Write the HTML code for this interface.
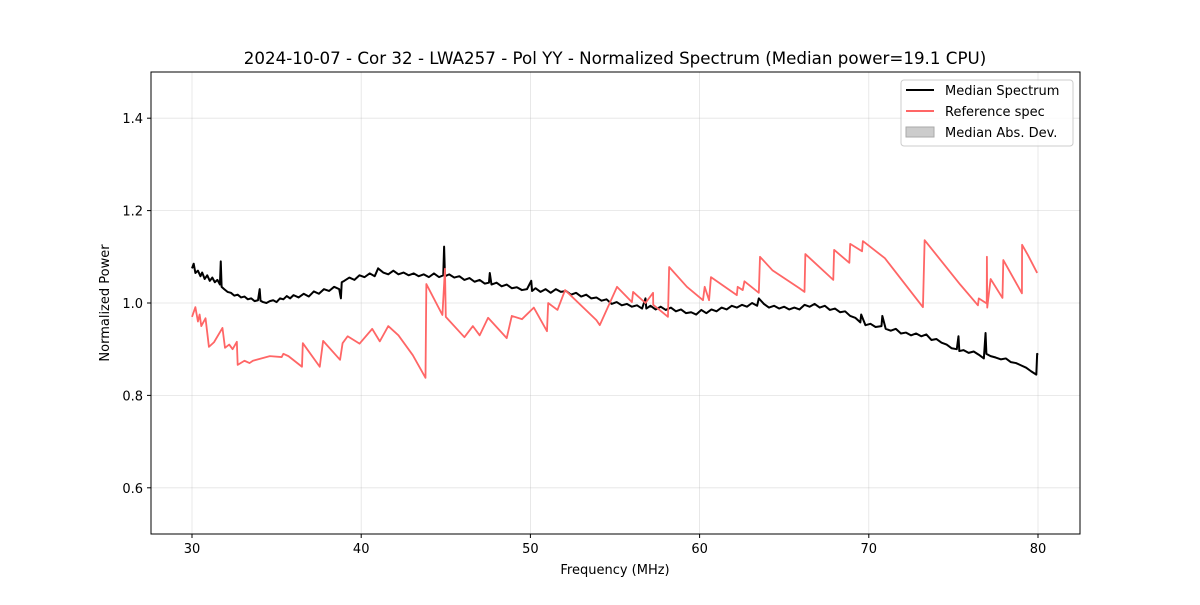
<!DOCTYPE html>
<html><head><meta charset="utf-8"><style>
body{margin:0;background:#fff;font-family:"Liberation Sans","DejaVu Sans",sans-serif}
svg text{font-family:"DejaVu Sans","Liberation Sans",sans-serif}
</style></head><body>
<svg id="chart" width="1200" height="600" xmlns="http://www.w3.org/2000/svg">
<rect width="1200" height="600" fill="#fff"/>
<text x="615" y="64" text-anchor="middle" font-size="16.7">2024-10-07 - Cor 32 - LWA257 - Pol YY - Normalized Spectrum (Median power=19.1 CPU)</text>
<g id="grid"></g><g id="series"></g><g id="axes"></g>
<rect x="151" y="72" width="929" height="462" fill="none" stroke="#000" stroke-width="1"/>
<text x="615" y="574" text-anchor="middle" font-size="13">Frequency (MHz)</text>
<text x="109" y="303" text-anchor="middle" font-size="13" transform="rotate(-90 109 303)">Normalized Power</text>
<g>
<rect x="901" y="80" width="172" height="66" rx="3" fill="#fff" fill-opacity="0.8" stroke="#ccc"/>
<g><line x1="906" y1="90" x2="934" y2="90" stroke="#000" stroke-width="2"/><text x="945" y="95" font-size="13">Median Spectrum</text></g>
<g><line x1="906" y1="111" x2="934" y2="111" stroke="#ff6666" stroke-width="2"/><text x="945" y="116" font-size="13">Reference spec</text></g>
<g><rect x="906" y="127" width="28" height="10" fill="#ccc" stroke="#aaa"/><text x="945" y="137" font-size="13">Median Abs. Dev.</text></g>
</g>
</svg>
<script>
const xTicks=[30,40,50,60,70,80];
const yTicks=[0.6,0.8,1.0,1.2,1.4];
const refFreq=[30.0,30.2,30.35,30.45,30.55,30.8,31.0,31.3,31.8,31.95,32.2,32.4,32.65,32.7,33.1,33.4,33.6,34.6,35.3,35.4,35.7,36.5,36.55,37.55,37.75,38.75,38.9,39.2,39.9,40.65,41.1,41.6,42.2,43.05,43.8,43.85,44.8,44.95,45.0,46.1,46.6,47.0,47.5,48.6,48.9,49.5,50.2,50.98,51.05,51.6,52.05,53.9,54.1,55.12,56.0,56.07,56.8,57.25,57.26,58.13,58.2,59.25,60.2,60.3,60.56,60.67,62.2,62.25,62.55,62.65,63.5,63.57,64.3,65.9,66.2,66.25,67.9,67.95,68.85,68.9,69.6,69.65,70.95,73.2,73.3,75.4,76.45,76.5,76.97,76.98,77.0,77.2,77.9,77.95,79.05,79.06,79.4,79.95];
const refVal=[0.970,0.991,0.960,0.975,0.950,0.967,0.905,0.915,0.946,0.903,0.910,0.900,0.916,0.866,0.875,0.870,0.875,0.885,0.883,0.890,0.885,0.862,0.913,0.862,0.918,0.877,0.913,0.928,0.912,0.944,0.917,0.950,0.930,0.887,0.838,1.041,0.974,1.074,0.970,0.926,0.950,0.930,0.968,0.924,0.972,0.965,0.990,0.939,1.000,0.985,1.028,0.963,0.952,1.035,1.002,1.024,1.000,1.022,0.996,0.970,1.078,1.035,1.006,1.035,1.006,1.056,1.017,1.035,1.028,1.047,1.022,1.100,1.071,1.032,1.024,1.106,1.050,1.115,1.087,1.128,1.112,1.134,1.097,0.991,1.136,1.040,0.995,1.010,0.999,1.100,0.990,1.052,1.011,1.093,1.021,1.126,1.104,1.065];
const medFreq=[30.0,30.1,30.2,30.35,30.5,30.6,30.75,30.9,31.05,31.2,31.35,31.5,31.65,31.7,31.75,31.9,32.1,32.3,32.5,32.7,32.9,33.1,33.3,33.5,33.7,33.9,34.0,34.05,34.2,34.4,34.6,34.8,35.0,35.2,35.4,35.6,35.8,36.0,36.3,36.6,36.9,37.2,37.5,37.8,38.1,38.4,38.7,38.8,38.85,39.0,39.3,39.6,39.9,40.2,40.5,40.8,41.0,41.3,41.6,41.9,42.2,42.5,42.8,43.1,43.4,43.7,44.0,44.3,44.6,44.85,44.9,44.95,45.2,45.5,45.8,46.1,46.4,46.7,47.0,47.3,47.55,47.6,47.7,48.0,48.3,48.6,48.9,49.2,49.5,49.8,50.05,50.1,50.3,50.6,50.9,51.2,51.5,51.8,52.1,52.4,52.7,53.0,53.3,53.6,53.9,54.2,54.5,54.8,55.1,55.4,55.7,56.0,56.3,56.6,56.8,56.85,57.1,57.4,57.7,58.0,58.3,58.6,58.9,59.2,59.5,59.8,60.1,60.4,60.7,61.0,61.3,61.6,61.9,62.2,62.5,62.8,63.1,63.4,63.5,63.8,64.1,64.4,64.7,65.0,65.3,65.6,65.9,66.2,66.5,66.8,67.1,67.4,67.7,68.0,68.3,68.6,68.9,69.2,69.5,69.55,69.8,70.1,70.4,70.75,70.8,71.0,71.3,71.6,71.9,72.2,72.5,72.8,73.1,73.4,73.7,74.0,74.3,74.6,74.9,75.2,75.3,75.35,75.6,75.9,76.2,76.5,76.8,76.9,76.95,77.2,77.5,77.8,78.1,78.4,78.7,79.0,79.3,79.6,79.9,79.95,80.0];
const medVal=[1.075,1.085,1.065,1.070,1.058,1.066,1.052,1.060,1.048,1.055,1.045,1.050,1.040,1.090,1.035,1.030,1.024,1.022,1.016,1.018,1.012,1.014,1.008,1.010,1.004,1.006,1.030,1.005,1.002,1.000,1.004,1.006,1.002,1.010,1.008,1.015,1.010,1.017,1.012,1.020,1.014,1.025,1.020,1.030,1.026,1.035,1.030,1.010,1.045,1.048,1.055,1.050,1.060,1.056,1.064,1.058,1.075,1.066,1.062,1.070,1.062,1.066,1.060,1.064,1.058,1.062,1.056,1.064,1.056,1.060,1.122,1.058,1.062,1.055,1.058,1.050,1.054,1.046,1.050,1.042,1.044,1.065,1.040,1.044,1.036,1.040,1.032,1.034,1.028,1.030,1.048,1.026,1.032,1.024,1.030,1.022,1.030,1.024,1.026,1.018,1.022,1.014,1.018,1.010,1.012,1.005,1.008,0.998,1.002,0.995,0.998,0.992,0.995,0.988,1.010,0.988,0.994,0.986,0.992,0.985,0.990,0.982,0.986,0.978,0.980,0.975,0.985,0.978,0.986,0.982,0.990,0.986,0.994,0.990,0.996,0.992,1.000,0.994,1.010,0.998,0.990,0.994,0.988,0.992,0.986,0.990,0.986,0.996,0.992,0.998,0.990,0.994,0.985,0.988,0.980,0.982,0.972,0.968,0.958,0.975,0.952,0.955,0.948,0.950,0.972,0.944,0.940,0.944,0.934,0.936,0.930,0.934,0.928,0.932,0.920,0.922,0.914,0.910,0.902,0.900,0.928,0.896,0.898,0.892,0.895,0.888,0.880,0.935,0.890,0.885,0.882,0.878,0.880,0.872,0.870,0.865,0.860,0.852,0.845,0.890,0.888];
const NS='http://www.w3.org/2000/svg';
const xs=f=>192+(f-30)*(1038-192)/50;
const ys=v=>534-(v-0.5)*462;
const grid=document.getElementById('grid'),axes=document.getElementById('axes'),ser=document.getElementById('series');
function mk(tag,attrs,parent){const e=document.createElementNS(NS,tag);for(const k in attrs)e.setAttribute(k,attrs[k]);parent.appendChild(e);return e;}
xTicks.forEach(t=>{
 const g=mk('line',{x1:xs(t),x2:xs(t),y1:72,y2:534,stroke:'#b0b0b0','stroke-opacity':0.35,'stroke-width':0.8},grid);
 
 
 mk('line',{x1:xs(t),x2:xs(t),y1:534,y2:538,stroke:'#000'},axes);
 const l=mk('text',{x:xs(t),y:553,'text-anchor':'middle','font-size':13},axes);l.textContent=t;
 
 
});
yTicks.forEach(t=>{
 const g=mk('line',{x1:151,x2:1080,y1:ys(t),y2:ys(t),stroke:'#b0b0b0','stroke-opacity':0.35,'stroke-width':0.8},grid);
 
 
 mk('line',{x1:147,x2:151,y1:ys(t),y2:ys(t),stroke:'#000'},axes);
 const l=mk('text',{x:143,y:ys(t)+5,'text-anchor':'end','font-size':13},axes);l.textContent=t.toFixed(1);
 
 
});
const med=mk('polyline',{points:medFreq.map((f,i)=>xs(f)+','+ys(medVal[i])).join(' '),fill:'none',stroke:'#000','stroke-width':2,'stroke-linejoin':'round'},ser);


const ref=mk('polyline',{points:refFreq.map((f,i)=>xs(f)+','+ys(refVal[i])).join(' '),fill:'none',stroke:'#ff6666','stroke-width':1.8,'stroke-linejoin':'round'},ser);


</script>
</body></html>
